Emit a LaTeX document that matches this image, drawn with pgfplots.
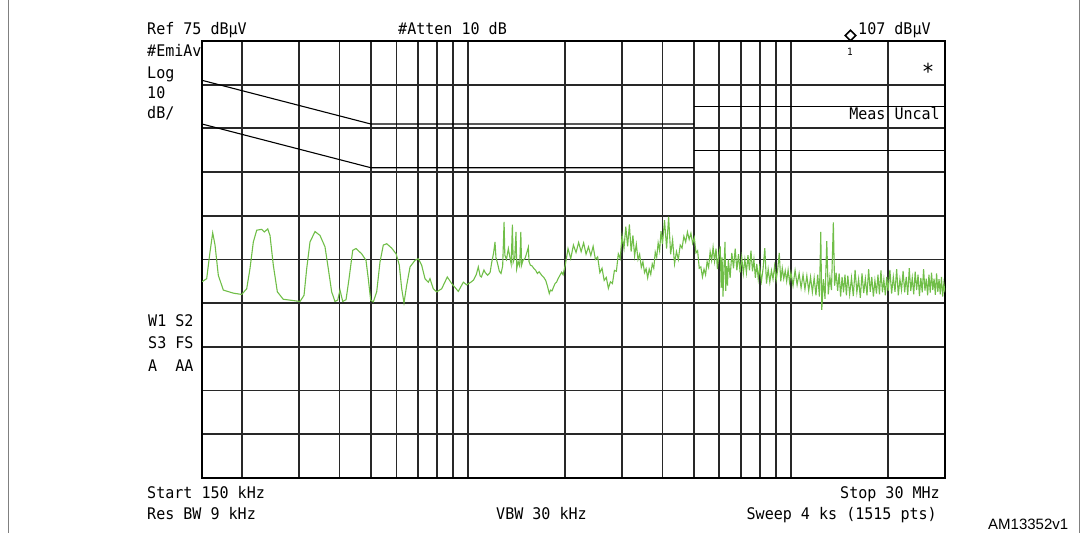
\documentclass[border=0pt]{standalone}
\usepackage{fontspec}
\usepackage{pgfplots}
\pgfplotsset{compat=1.18}
\usetikzlibrary{shapes.geometric}
\newfontfamily\mono[FakeStretch=0.94]{DejaVu Sans Mono}
\newfontfamily\arialfont{Liberation Sans}
\newcommand\scr{\mono\fontsize{16bp}{19bp}\selectfont}
\definecolor{trace}{RGB}{112,190,72}
\definecolor{gridc}{RGB}{40,40,40}

\begin{document}
\begin{tikzpicture}[x=1bp,y=1bp]
  \useasboundingbox (0,0) rectangle (1082,533);
  % figure frame
  \draw[gray, line width=0.8bp] (8,0) -- (8,533);
  \draw[gray, line width=0.8bp] (1079.5,0) -- (1079.5,533);

  \begin{axis}[
    at={(202bp,55bp)}, anchor=south west,
    scale only axis, width=743bp, height=437bp,
    xmode=log, xmin=0.15, xmax=30, ymin=-25, ymax=75,
    xtick={0.2,0.3,0.4,0.5,0.6,0.7,0.8,0.9,1,2,3,4,5,6,7,8,9,10,20},
    ytick={-15,-5,5,15,25,35,45,55,65},
    xticklabel=\empty, yticklabel=\empty,
    major tick length=0pt,
    grid=major,
    grid style={line width=1.8bp, color=gridc},
    axis line style={line width=2.8bp, black},
  ]
    % limit lines (quasi-peak and average)
    \addplot[black, line width=1.1bp] coordinates {(0.15,66) (0.5,56) (5,56)};
    \addplot[black, line width=1.1bp] coordinates {(5,60) (30,60)};
    \addplot[black, line width=1.1bp] coordinates {(0.15,56) (0.5,46) (5,46)};
    \addplot[black, line width=1.1bp] coordinates {(5,50) (30,50)};

    % measured trace, MHz vs dBuV
    \addplot[trace, line width=1.1bp] coordinates {
      (0.150,19.9) (0.1551,20.6) (0.1588,26.7) (0.1619,31.1) (0.1646,28.3)
      (0.1685,21.4) (0.1746,18.0) (0.1875,17.3) (0.1991,17.0) (0.2063,18.3)
      (0.2112,22.9) (0.2163,29.0) (0.2216,31.7) (0.2296,31.9) (0.2340,31.3)
      (0.2397,32.0) (0.2436,30.5) (0.2494,23.7) (0.2567,17.6) (0.2677,15.9)
      (0.2877,15.6) (0.3018,15.4) (0.3105,16.8) (0.3165,22.9) (0.3240,29.0)
      (0.3358,31.4) (0.3480,30.5) (0.3606,27.9) (0.3692,22.9) (0.3782,17.6)
      (0.3872,15.4) (0.3948,15.7) (0.4013,18.0) (0.4091,15.4) (0.4189,15.8)
      (0.4280,20.6) (0.4394,27.1) (0.4499,27.5) (0.4684,26.3) (0.4830,24.8)
      (0.4910,20.6) (0.4994,15.7) (0.5088,15.3) (0.5213,17.6) (0.5337,24.4)
      (0.5465,28.3) (0.5599,28.6) (0.5802,27.6) (0.5985,26.3) (0.6125,23.7)
      (0.6231,18.3) (0.6334,15.1) (0.6457,19.1) (0.6612,23.3) (0.6849,24.8)
      (0.7014,25.2) (0.7185,23.7) (0.7357,20.6) (0.7533,19.8) (0.7625,20.6)
      (0.7806,18.3) (0.7997,17.6) (0.8287,18.3) (0.8625,21.0) (0.8899,19.5)
      (0.9329,17.7) (0.9668,19.8) (0.9903,19.2)
      (1.00,19.4) (1.02,19.8) (1.04,20.3) (1.06,21.5) (1.076,23.3) (1.09,21.2)
      (1.10,21.0) (1.12,22.6) (1.13,22.0) (1.15,21.4) (1.17,22.0) (1.185,24.5)
      (1.20,26.5) (1.212,29.0) (1.22,25.5) (1.235,24.0) (1.25,22.3) (1.265,21.8)
      (1.28,23.5) (1.293,33.6) (1.30,26.0) (1.315,25.0) (1.333,27.5) (1.345,25.8)
      (1.36,24.0) (1.372,33.0) (1.38,24.4) (1.395,25.5) (1.408,31.3) (1.415,22.9)
      (1.43,24.5) (1.445,23.5) (1.457,31.3) (1.465,23.7) (1.48,24.8) (1.50,25.2)
      (1.52,26.5) (1.537,27.8) (1.545,24.5) (1.56,23.7) (1.58,23.5) (1.60,22.9)
      (1.62,22.5) (1.64,21.8) (1.66,22.2) (1.69,21.4) (1.72,20.8) (1.74,20.2)
      (1.76,19.0) (1.785,17.2) (1.80,18.0) (1.82,17.8) (1.84,18.7) (1.86,19.5)
      (1.88,19.8) (1.90,20.6) (1.93,21.5) (1.95,22.1) (1.97,21.5) (2.00,23.7)
      (2.04,27.5) (2.08,25.2) (2.12,28.3) (2.16,26.6) (2.20,28.9) (2.24,26.8)
      (2.28,28.8) (2.32,26.2) (2.36,27.9) (2.40,25.9) (2.44,28.0) (2.48,25.0)
      (2.52,25.6) (2.56,22.0) (2.60,23.0) (2.64,20.2) (2.68,20.9) (2.72,18.4)
      (2.76,19.9) (2.80,19.5) (2.84,22.5) (2.88,22.3) (2.92,26.3) (2.96,25.2)
      (3.00,30.5) (3.04,27.5) (3.08,32.5) (3.12,28.0) (3.16,33.0) (3.20,26.8)
      (3.24,30.5) (3.28,25.8) (3.32,28.5) (3.36,25.0) (3.40,26.2) (3.44,23.2)
      (3.48,24.5) (3.52,22.0) (3.56,22.9) (3.60,20.8) (3.64,22.8) (3.68,21.6)
      (3.72,24.0) (3.76,23.0) (3.80,26.7) (3.84,25.5) (3.88,28.8) (3.92,27.0)
      (3.96,31.5) (4.00,28.5)
      (4.06,34.0) (4.12,27.5) (4.18,34.8) (4.24,26.2) (4.30,29.5) (4.36,24.0)
      (4.42,26.8) (4.48,25.0) (4.54,28.3) (4.60,27.6) (4.66,30.3) (4.72,29.0)
      (4.78,31.3) (4.84,29.6) (4.90,31.0) (4.96,28.7) (5.02,30.0) (5.08,26.5)
      (5.14,27.0) (5.20,23.0) (5.26,23.3) (5.32,21.0) (5.38,22.8) (5.44,21.5)
      (5.50,24.5) (5.56,23.2) (5.62,26.8) (5.68,24.8) (5.74,27.8) (5.80,24.6)
      (5.86,27.5) (5.92,22.8) (5.98,26.0)
      (6.04,28.0) (6.08,18.5) (6.12,25.5) (6.16,16.5) (6.20,23.0) (6.25,29.0)
      (6.28,17.8) (6.32,23.5) (6.36,19.0) (6.40,25.0) (6.48,20.8) (6.56,26.5)
      (6.64,23.0) (6.72,27.5) (6.80,22.5) (6.88,26.2) (6.96,22.0) (7.04,25.5)
      (7.12,21.8) (7.20,25.0) (7.28,22.0) (7.36,26.0) (7.44,22.5) (7.52,27.0)
      (7.60,22.3) (7.68,25.0) (7.76,20.8) (7.84,24.0) (7.92,20.5) (8.00,23.2)
      (8.10,20.0) (8.20,23.0) (8.30,27.6) (8.40,19.5) (8.50,22.8) (8.60,19.8)
      (8.70,22.5) (8.80,20.5) (8.90,23.5) (9.00,20.3) (9.10,22.8) (9.20,26.5)
      (9.30,20.0) (9.40,23.0) (9.50,20.6) (9.60,22.4) (9.70,20.0) (9.80,22.6)
      (9.90,19.8) (10.0,22.0)
      (10.15,19.0) (10.30,22.5) (10.45,19.2) (10.60,21.8) (10.75,18.5) (10.90,21.5)
      (11.05,18.2) (11.20,21.3) (11.35,17.8) (11.50,21.0) (11.65,17.5) (11.80,20.8)
      (11.95,16.8) (12.10,21.5) (12.25,16.5) (12.37,31.3) (12.46,13.5) (12.60,20.5)
      (12.75,16.0) (12.91,29.2) (13.05,17.0) (13.20,21.0) (13.35,18.0) (13.53,33.5)
      (13.65,19.0) (13.80,22.0) (13.95,17.8) (14.10,21.8) (14.25,16.5) (14.40,21.0)
      (14.55,17.5) (14.70,21.5) (14.85,16.8)
      (15.0,21.3) (15.2,17.0) (15.4,20.8) (15.6,16.6) (15.8,22.6) (16.0,17.5)
      (16.2,20.5) (16.4,16.2) (16.6,21.8) (16.8,17.3) (17.0,20.6) (17.2,16.8)
      (17.4,22.8) (17.6,17.6) (17.8,21.0) (18.0,16.5) (18.2,20.2) (18.4,17.2)
      (18.6,21.5) (18.8,17.0) (19.0,22.5) (19.2,17.5) (19.4,20.4) (19.6,16.8)
      (19.8,21.0) (20.0,17.8)
      (20.25,22.6) (20.50,17.2) (20.75,21.0) (21.00,17.6) (21.25,22.8) (21.50,16.8)
      (21.75,20.5) (22.00,18.0) (22.25,22.4) (22.50,17.5) (22.75,21.0) (23.00,16.9)
      (23.25,23.0) (23.50,17.8) (23.75,20.8) (24.00,17.0) (24.25,22.2) (24.50,18.0)
      (24.75,21.5) (25.00,16.6) (25.25,20.8) (25.50,17.5) (25.75,22.8) (26.00,17.9)
      (26.25,20.6) (26.50,16.8) (26.75,21.5) (27.00,17.4) (27.25,22.0) (27.50,18.0)
      (27.75,20.6) (28.00,16.9) (28.25,21.8) (28.50,17.6) (28.75,20.5) (29.00,17.0)
      (29.25,21.0) (29.50,16.5) (29.75,19.5) (30.00,17.5)
    };
  \end{axis}

  % annotation texts of the analyser screen
  \node[anchor=base west, inner sep=0, font=\scr] at (147,498) {Ref 75 dBμV};
  \node[anchor=base west, inner sep=0, font=\scr] at (398,498) {\#Atten 10 dB};
  \node[draw, shape=diamond, line width=1.6bp, inner sep=0, minimum size=11bp] at (850.5,497.5) {};
  \node[anchor=base west, inner sep=0, font=\scr] at (858,498) {107 dBμV};
  \node[inner sep=0, font=\mono\fontsize{10bp}{12bp}\selectfont] at (850,481) {1};
  \node[anchor=base, inner sep=0, font=\mono\fontsize{22bp}{24bp}\selectfont] at (928,453) {*};
  \node[anchor=base east, inner sep=0, font=\scr] at (940,413) {Meas Uncal};

  \node[anchor=base west, inner sep=0, font=\scr] at (147,476.5) {\#EmiAv};
  \node[anchor=base west, inner sep=0, font=\scr] at (147,454) {Log};
  \node[anchor=base west, inner sep=0, font=\scr] at (147,434.5) {10};
  \node[anchor=base west, inner sep=0, font=\scr] at (147,414.5) {dB/};

  \node[anchor=base west, inner sep=0, font=\scr] at (148,206.3) {W1~S2};
  \node[anchor=base west, inner sep=0, font=\scr] at (148,184.7) {S3~FS};
  \node[anchor=base west, inner sep=0, font=\scr] at (148,161.3) {A~~AA};

  \node[anchor=base west, inner sep=0, font=\scr] at (147,34.7) {Start 150 kHz};
  \node[anchor=base west, inner sep=0, font=\scr] at (147,13) {Res BW 9 kHz};
  \node[anchor=base west, inner sep=0, font=\scr] at (496,13) {VBW 30 kHz};
  \node[anchor=base east, inner sep=0, font=\scr] at (940,34.7) {Stop 30 MHz};
  \node[anchor=base east, inner sep=0, font=\scr] at (937,13) {Sweep 4 ks (1515 pts)};
  \node[anchor=base west, inner sep=0, font=\arialfont\fontsize{15bp}{17bp}\selectfont] at (988,3) {AM13352v1};
\end{tikzpicture}
\end{document}
